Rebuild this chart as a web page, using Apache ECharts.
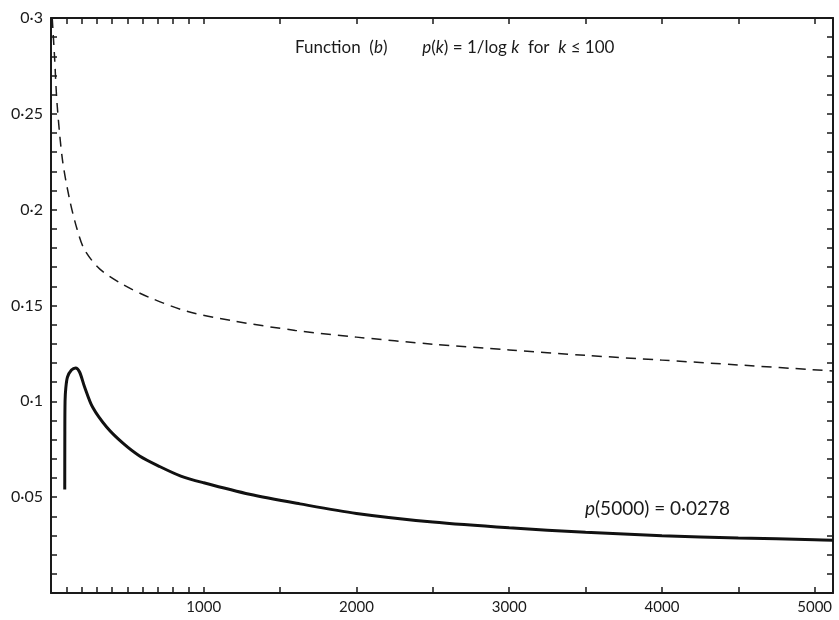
<!DOCTYPE html>
<html>
<head>
<meta charset="utf-8">
<script src="https://cdn.jsdelivr.net/npm/echarts@6/dist/echarts.min.js"></script>
<style>
  html, body { margin: 0; padding: 0; background: #fff; }
  #chart { width: 839px; height: 620px; }
</style>
</head>
<body>
<div id="chart"></div>
<script>
// k values and p values
var solidK = [90, 90.5, 92, 97, 108, 134, 161, 187, 220, 272, 364, 469, 580, 711, 850, 1000, 1300, 1630, 2000, 2500, 3000, 3500, 4000, 4500, 5000, 5120];
var solidP = [0.054, 0.08, 0.1, 0.107, 0.1127, 0.1163, 0.1174, 0.1153, 0.1075, 0.097, 0.0866, 0.0783, 0.0715, 0.066, 0.061, 0.0575, 0.0515, 0.0465, 0.0415, 0.037, 0.034, 0.0317, 0.0299, 0.0287, 0.0278, 0.0275];

var dashK = [8, 23, 40, 75, 120, 170, 220, 320, 470, 650, 890, 1190, 1600, 2000, 2500, 3000, 3500, 4000, 4500, 5120];
var dashP = [0.3, 0.28, 0.255, 0.226, 0.206, 0.19, 0.179, 0.169, 0.161, 0.154, 0.147, 0.142, 0.137, 0.1335, 0.1298, 0.1268, 0.124, 0.1215, 0.119, 0.1158];

var xTicks = [100, 200, 300, 400, 500, 600, 700, 800, 900, 1000, 1500, 2000, 2500, 3000, 3500, 4000, 4500, 5000];
var xLabels = [1000, 2000, 3000, 4000, 5000];

function pairs(xs, ys) {
    var out = [];
    for (var i = 0; i < xs.length; i++) out.push([xs[i], ys[i]]);
    return out;
}

var chart = echarts.init(document.getElementById('chart'));
var font = 'Lato, "DejaVu Sans", sans-serif';

var axisBase = {
    axisLine: { show: true, onZero: false, lineStyle: { color: '#1a1a1a', width: 2 } },
    axisTick: { show: true, inside: true, length: 6, lineStyle: { color: '#1a1a1a', width: 1.5 } },
    splitLine: { show: false }
};

chart.setOption({
    animation: false,
    backgroundColor: '#fff',
    grid: { left: 51, right: 6, top: 18, bottom: 27 },
    title: {
        text: '{n|Function  (}{i|b}{n|)        }{i|p}{n|(}{i|k}{n|) = 1/log }{i|k}{n|  for  }{i|k}{n| \u2264 100}',
        left: 290,
        top: 34,
        textStyle: {
            rich: {
                n: { fontFamily: font, fontSize: 17, fontWeight: 'normal', color: '#1a1a1a' },
                i: { fontFamily: font, fontSize: 17, fontWeight: 'normal', color: '#1a1a1a', fontStyle: 'italic' }
            }
        }
    },
    graphic: [{
        type: 'text',
        left: 585,
        top: 499,
        style: {
            text: '{i|p}{n|(5000) = 0\u00b70278}',
            rich: {
                n: { fontFamily: font, fontSize: 19, fill: '#1a1a1a' },
                i: { fontFamily: font, fontSize: 19, fill: '#1a1a1a', fontStyle: 'italic' }
            }
        }
    }],
    xAxis: [
        Object.assign({}, axisBase, {
            type: 'value', position: 'bottom', min: 0, max: 5120,
            axisTick: Object.assign({}, axisBase.axisTick, { customValues: xTicks }),
            axisLabel: {
                customValues: xLabels, color: '#1a1a1a', fontFamily: font, fontSize: 15, margin: 7,
                formatter: function (v) { return String(v); }
            }
        }),
        Object.assign({}, axisBase, {
            type: 'value', position: 'top', min: 0, max: 5120,
            axisTick: Object.assign({}, axisBase.axisTick, { customValues: xTicks }),
            axisLabel: { show: false }
        })
    ],
    yAxis: [
        Object.assign({}, axisBase, {
            type: 'value', position: 'left', min: 0, max: 0.3, interval: 0.01,
            axisLabel: {
                color: '#1a1a1a', fontFamily: font, fontSize: 16, margin: 8,
                formatter: function (v) {
                    var c = Math.round(v * 100);
                    if (c === 0 || c % 5 !== 0) return '';
                    return String(c / 100).replace('.', '\u00b7');
                }
            }
        }),
        Object.assign({}, axisBase, {
            type: 'value', position: 'right', min: 0, max: 0.3, interval: 0.01,
            axisLabel: { show: false }
        })
    ],
    series: [
        {
            type: 'line',
            data: pairs(dashK, dashP),
            smooth: 0.3,
            symbol: 'none',
            lineStyle: { color: '#1a1a1a', width: 1.5, type: [10, 7] }
        },
        {
            type: 'line',
            data: pairs(solidK, solidP),
            smooth: 0.3,
            symbol: 'none',
            lineStyle: { color: '#111', width: 3 }
        }
    ]
});
</script>
</body>
</html>
